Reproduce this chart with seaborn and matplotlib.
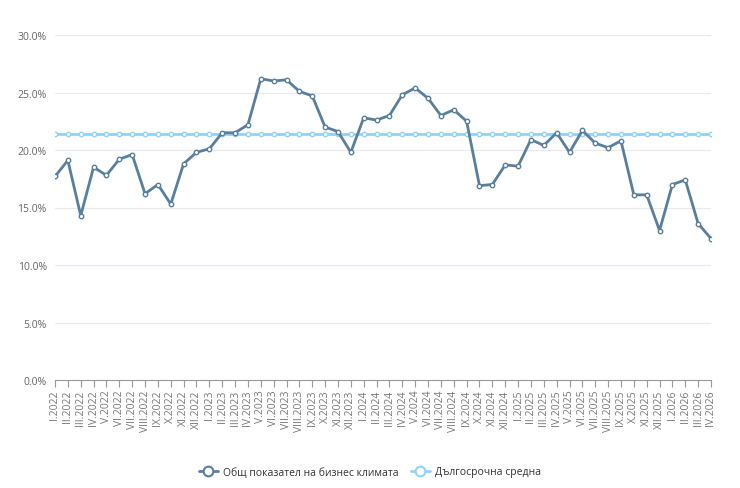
import matplotlib
matplotlib.use("Agg")
import matplotlib.pyplot as plt
import seaborn as sns
import pandas as pd
from matplotlib.lines import Line2D

roman = ["I", "II", "III", "IV", "V", "VI", "VII", "VIII", "IX", "X", "XI", "XII"]
months = [f"{r}.{y}" for y in range(2022, 2026) for r in roman] + [f"{r}.2026" for r in roman[:4]]

business_climate = [
    17.7, 19.1, 14.3, 18.5, 17.8, 19.2, 19.6, 16.2, 17.0, 15.3, 18.8, 19.8,
    20.1, 21.5, 21.5, 22.2, 26.2, 26.0, 26.1, 25.1, 24.7, 22.0, 21.6, 19.8,
    22.8, 22.6, 23.0, 24.8, 25.4, 24.5, 23.0, 23.5, 22.5, 16.9, 17.0, 18.7,
    18.6, 20.9, 20.4, 21.5, 19.8, 21.7, 20.6, 20.2, 20.8, 16.1, 16.1, 13.0,
    17.0, 17.4, 13.6, 12.3,
]
long_term_avg = [21.4] * len(months)

name1 = "Общ показател на бизнес климата"
name2 = "Дългосрочна средна"
c1 = "#587f9e"
c2 = "#8fd3fb"

df = pd.DataFrame({
    "pos": list(range(len(months))) * 2,
    "value": business_climate + long_term_avg,
    "series": [name1] * len(months) + [name2] * len(months),
})

sns.set_theme(style="white")
plt.rcParams["font.family"] = ["Open Sans", "DejaVu Sans"]

fig = plt.figure(figsize=(7.4, 4.89), dpi=100)
ax = fig.add_axes([55 / 740, 1 - 381 / 489, (711 - 55) / 740, (381 - 36) / 489])

sns.lineplot(data=df, x="pos", y="value", hue="series", hue_order=[name2, name1],
             palette={name1: c1, name2: c2}, linewidth=2.0, marker="o",
             markersize=3.2, markerfacecolor="white", markeredgewidth=1.0,
             ax=ax, legend=False)
for ln in ax.get_lines():
    ln.set_markeredgecolor(ln.get_color())

ax.set_xlim(0, len(months) - 1)
ax.set_ylim(0, 30)
ax.set_yticks([0, 5, 10, 15, 20, 25, 30])
ax.set_yticklabels([f"{v:.1f}%" for v in [0, 5, 10, 15, 20, 25, 30]], fontsize=7.5, color="#666666")
ax.set_xticks(range(len(months)))
ax.set_xticklabels(months, rotation=90, fontsize=7.5, color="#777777")
ax.tick_params(axis="x", length=5, color="#999999", width=0.8, pad=2, bottom=True)
ax.tick_params(axis="y", length=0, pad=6)
ax.grid(axis="y", color="#e6e9f0", linewidth=0.8)
ax.set_axisbelow(True)
for s in ["top", "right", "left"]:
    ax.spines[s].set_visible(False)
ax.spines["bottom"].set_color("#999999")
ax.spines["bottom"].set_linewidth(0.8)
ax.set_xlabel("")
ax.set_ylabel("")
ax.margins(x=0)

handles = [
    Line2D([0], [0], color=c1, lw=2, marker="o", markersize=7, markerfacecolor="white", markeredgecolor=c1, markeredgewidth=1.5),
    Line2D([0], [0], color=c2, lw=2, marker="o", markersize=7, markerfacecolor="white", markeredgecolor=c2, markeredgewidth=1.5),
]
fig.legend(handles, [name1, name2], loc="center", bbox_to_anchor=(0.5, 1 - 473 / 489),
           ncol=2, frameon=False, fontsize=7.5, handlelength=1.8, columnspacing=1.2,
           handletextpad=0.5, labelcolor="#333333")

fig.savefig("out.png", dpi=100, facecolor="white")
